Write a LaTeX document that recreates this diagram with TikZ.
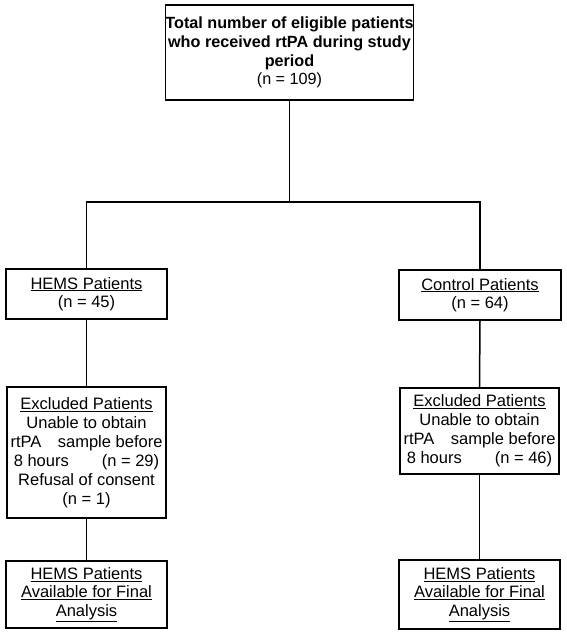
\documentclass[tikz,border=0pt]{standalone}
\usepackage{fontspec}
\setmainfont{Liberation Sans}
\begin{document}
\begin{tikzpicture}[x=1pt,y=-1pt,
  box/.style={draw,line width=1.5pt,inner sep=0pt,align=center,font=\fontsize{16.5}{18.5}\selectfont},
  conn/.style={line width=1.5pt}]
\useasboundingbox (0,0) rectangle (566,635);
\fill[white] (0,0) rectangle (566,635);
\node[box,minimum width=245,minimum height=95,font=\fontsize{16.2}{18.7}\selectfont] (top) at (289.5,52.5)
  {\textbf{Total number of eligible patients}\\\textbf{who received rtPA during study}\\\textbf{period}\\(n = 109)};
\node[box,minimum width=161,minimum height=50] (hems) at (86.5,294) {\underline{HEMS Patients}\\(n = 45)};
\node[box,minimum width=162,minimum height=50] (ctrl) at (480,295) {\underline{Control Patients}\\(n = 64)};
\node[box,minimum width=159,minimum height=131,font=\fontsize{16.5}{19}\selectfont] (exl) at (86.5,452.5)
  {\underline{Excluded Patients}\\Unable to obtain\\rtPA\hspace{1em}sample before\\8 hours\hspace{2em}(n = 29)\\Refusal of consent\\(n = 1)};
\node[box,minimum width=159,minimum height=86,font=\fontsize{16.5}{19}\selectfont] (exr) at (479.5,431)
  {\underline{Excluded Patients}\\Unable to obtain\\rtPA\hspace{1em}sample before\\8 hours\hspace{2em}(n = 46)};
\node[box,minimum width=161,minimum height=67] (finl) at (86.5,594.5)
  {\underline{HEMS Patients}\\\underline{Available for Final}\\\underline{Analysis}};
\node[box,minimum width=161,minimum height=69] (finr) at (479.5,594.5)
  {\underline{HEMS Patients}\\\underline{Available for Final}\\\underline{Analysis}};
\coordinate (j) at (top.south |- 0,202);
\draw[conn] (top.south) -- (j);
\draw[conn] (hems.north) |- (j) -| (ctrl.north);
\draw[conn] (hems.south) -- (exl.north);
\draw[conn] (ctrl.south) -- (exr.north);
\draw[conn] (exl.south) -- (finl.north);
\draw[conn] (exr.south) -- (finr.north);
\end{tikzpicture}
\end{document}
